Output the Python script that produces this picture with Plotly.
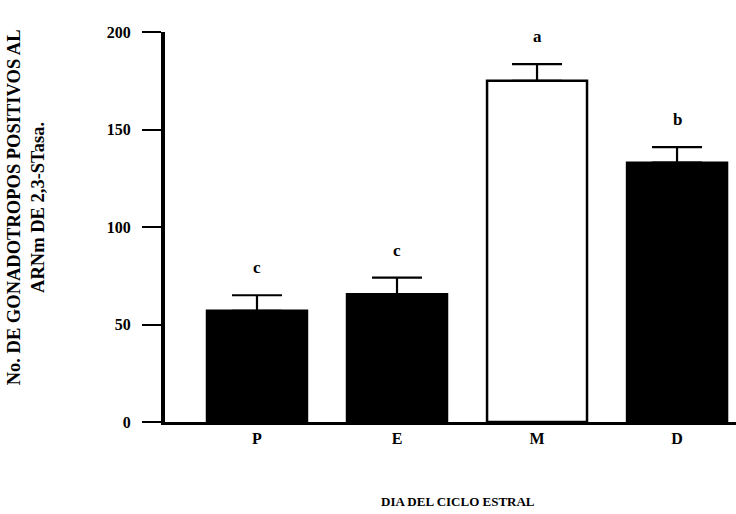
import plotly.graph_objects as go

categories = ["P", "E", "M", "D"]
means = [57, 65.5, 175, 133]
errors = [8, 8.5, 8.5, 8]
letters = ["c", "c", "a", "b"]
bar_colors = ["black", "black", "white", "black"]
y_ticks = [0, 50, 100, 150, 200]

FONT = "Liberation Serif, Times New Roman, serif"

fig = go.Figure()
fig.add_trace(go.Bar(
    x=list(range(len(categories))),
    y=means,
    width=0.714,
    marker=dict(color=bar_colors, line=dict(color="black", width=2.5)),
    error_y=dict(type="data", array=errors, symmetric=False,
                 arrayminus=[0] * len(errors),
                 color="black", thickness=2.2, width=25),
    showlegend=False,
    hoverinfo="skip",
))

for i, (m, e, t) in enumerate(zip(means, errors, letters)):
    fig.add_annotation(x=i, y=m + e, text=f"<b>{t}</b>", showarrow=False,
                       xanchor="center", yanchor="bottom", yshift=16,
                       font=dict(family=FONT, size=17, color="black"))

fig.add_annotation(
    xref="paper", yref="paper", x=-0.242, y=0.55,
    text="<b>No. DE GONADOTROPOS POSITIVOS AL</b><br><b>ARNm DE 2,3-STasa.</b>",
    textangle=-90, showarrow=False, xanchor="center", yanchor="middle",
    font=dict(family=FONT, size=18.5, color="black"),
)
fig.add_annotation(
    xref="paper", yref="paper", x=0.513, y=-0.205,
    text="<b>DIA DEL CICLO ESTRAL</b>", showarrow=False,
    xanchor="center", yanchor="middle",
    font=dict(family=FONT, size=13, color="black"),
)

fig.update_layout(
    width=736, height=514,
    margin=dict(l=165, r=0, t=32, b=92),
    paper_bgcolor="white", plot_bgcolor="white",
    xaxis=dict(
        range=[-0.657, 3.421],
        tickmode="array", tickvals=list(range(len(categories))),
        ticktext=[f"<b>{c}</b>" for c in categories],
        showline=True, linecolor="black", linewidth=2.5,
        ticks="", showgrid=False, zeroline=False,
        tickfont=dict(family=FONT, size=16, color="black"),
    ),
    yaxis=dict(
        range=[0, 200],
        tickmode="array", tickvals=y_ticks,
        ticktext=[f"<b>{v}</b>" for v in y_ticks],
        showline=True, linecolor="black", linewidth=4,
        ticks="outside", ticklen=19, tickwidth=2, tickcolor="black",
        ticklabelstandoff=8,
        showgrid=False, zeroline=False,
        tickfont=dict(family=FONT, size=16, color="black"),
    ),
)

fig.write_html("out.html")
